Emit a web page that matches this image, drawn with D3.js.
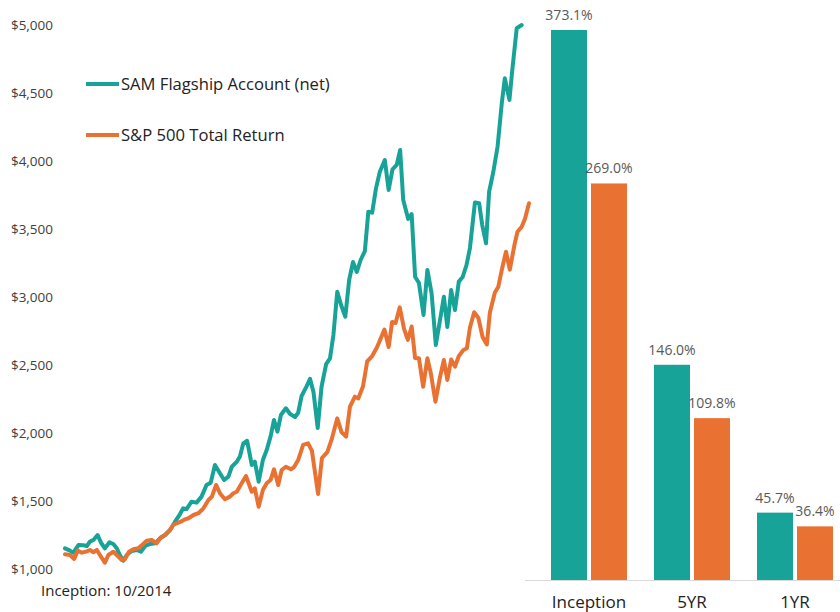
<!DOCTYPE html>
<html>
<head>
    <meta charset="utf-8">
    <title>SAM Flagship vs S&amp;P 500</title>
    <script src="https://cdn.jsdelivr.net/npm/d3@7"></script>
    <style>
        body { margin: 0; background: #fff; }
        text { font-family: "Open Sans", "DejaVu Sans", sans-serif; }
    </style>
</head>
<body>
    <div id="my_dataviz"></div>
    <script>
        const width = 840, height = 612;

        // growth of $1,000 -- months since inception (10/2014) and value
        const samMonths = [0,1.3,2.2,3.5,4.8,5.7,6.5,7.4,8.5,9.4,10.4,11.6,12.6,13.5,14.3,15.2,16.1,17.4,18.7,19.8,20.9,22.2,23.5,24.8,26.1,27.4,28.7,30.0,30.8,31.7,33.0,34.3,35.6,36.9,38.0,39.1,40.4,41.5,42.6,43.5,44.8,45.6,46.5,47.5,48.7,49.5,50.5,51.6,52.6,53.6,54.5,55.4,56.3,57.6,58.7,60.0,60.8,61.7,63.0,63.9,64.8,65.9,66.9,68.1,69.1,70.0,71.0,72.0,73.1,74.1,75.1,76.1,77.1,78.2,79.1,80.1,81.1,82.1,83.4,84.4,85.4,86.5,87.4,88.2,89.5,90.4,91.3,92.3,93.5,94.5,95.6,96.7,97.8,98.8,99.7,100.7,101.7,102.7,103.7,104.7,105.6,106.9,108.0,108.8,109.8,110.6,111.7,112.8,113.9,114.7,115.9,116.6,117.8,119.1];
        const samValues = [1152,1135,1120,1176,1174,1169,1201,1213,1250,1193,1152,1196,1184,1152,1103,1061,1103,1132,1140,1127,1169,1184,1189,1226,1250,1287,1348,1404,1446,1441,1495,1488,1532,1618,1635,1765,1704,1654,1679,1752,1789,1826,1924,1943,1765,1789,1642,1801,1875,1973,2096,2010,2132,2182,2140,2118,2149,2272,2343,2399,2301,2037,2340,2507,2549,2721,3039,2941,2855,3125,3257,3184,3272,3338,3627,3620,3799,3921,4007,3787,3939,3971,4081,3713,3574,3610,3149,3103,2868,3199,3027,2647,2831,3002,2779,3051,2904,3113,3147,3235,3360,3695,3689,3529,3395,3774,3921,4105,4424,4608,4449,4657,4976,5000];

        const spMonths = [0,1.3,2.4,3.3,4.4,5.7,6.5,7.4,8.3,9.4,10.4,11.3,12.6,13.7,14.8,15.6,16.7,17.8,19.1,20.4,21.3,22.6,23.9,25.0,26.1,27.4,28.2,29.1,30.2,31.3,32.2,33.5,34.8,36.1,37.4,38.3,39.4,40.4,41.7,43.0,43.9,44.8,45.8,47.2,48.7,49.5,50.5,51.6,52.6,53.6,54.5,55.6,56.5,57.6,58.9,59.7,60.8,62.1,63.4,64.4,66.0,67.0,68.4,69.5,71.0,72.1,73.3,74.3,75.6,76.5,77.7,78.8,80.1,81.4,83.3,84.4,85.3,86.2,87.3,88.4,89.4,90.4,91.3,92.3,93.4,94.5,95.4,96.6,97.8,98.8,99.7,100.7,101.7,102.7,103.9,104.8,105.6,106.7,107.8,108.9,110.0,110.8,112.1,113.0,113.9,115.0,116.0,117.2,118.0,119.1,120.0,121.0];
        const spValues = [1108,1103,1074,1135,1120,1130,1140,1123,1140,1090,1046,1103,1127,1096,1066,1071,1127,1145,1152,1184,1208,1213,1189,1233,1250,1287,1324,1336,1348,1365,1373,1397,1410,1446,1507,1532,1618,1557,1513,1532,1557,1568,1618,1684,1568,1593,1458,1581,1630,1654,1733,1618,1728,1752,1733,1748,1801,1912,1924,1868,1551,1816,1860,1949,2108,2007,1973,2193,2267,2255,2342,2526,2566,2632,2761,2632,2816,2809,2924,2768,2684,2783,2551,2549,2340,2549,2439,2230,2412,2537,2390,2540,2488,2566,2610,2623,2776,2888,2846,2706,2651,2886,3033,3076,3199,3333,3201,3382,3480,3517,3579,3689];

        const yTicks = [1000,1500,2000,2500,3000,3500,4000,4500,5000];

        // cumulative returns (%)
        const periods = ["Inception", "5YR", "1YR"];
        const samReturns = [373.1, 146.0, 45.7];
        const spReturns = [269.0, 109.8, 36.4];

        const seriesNames = ["SAM Flagship Account (net)", "S&P 500 Total Return"];
        const colors = ["#17a398", "#e97132"];

        const svg = d3.select("#my_dataviz")
          .append("svg")
            .attr("width", width)
            .attr("height", height);

        // ---- line chart ----
        const x = d3.scaleLinear().domain([0, 121]).range([65, 529]);
        const y = d3.scaleLinear().domain([1000, 5000]).range([569, 25]);

        const yAxis = svg.append("g")
            .attr("transform", "translate(53,0)")
            .call(d3.axisLeft(y).tickValues(yTicks).tickSize(0).tickPadding(0)
                .tickFormat(d => "$" + d3.format(",")(d)));
        yAxis.select(".domain").remove();
        yAxis.selectAll("text")
            .attr("fill", "#404040")
            .style("font-size", "13.5px")
            .style("font-family", "'Open Sans', sans-serif");

        const line = d3.line()
            .x(d => x(d[0]))
            .y(d => y(d[1]));

        const series = [
            d3.zip(samMonths, samValues),
            d3.zip(spMonths, spValues)
        ];

        series.forEach(function(data, i) {
            svg.append("path")
              .datum(data)
              .attr("fill", "none")
              .attr("stroke", colors[i])
              .attr("stroke-width", 4)
              .attr("stroke-linejoin", "round")
              .attr("stroke-linecap", "round")
              .attr("d", line);
        });

        // legend
        seriesNames.forEach(function(name, i) {
            const ly = 84 + i * 51;
            svg.append("line")
                .attr("x1", 86).attr("x2", 119)
                .attr("y1", ly).attr("y2", ly)
                .attr("stroke", colors[i])
                .attr("stroke-width", 4);
            svg.append("text")
                .attr("x", 121).attr("y", ly)
                .attr("dy", "0.35em")
                .attr("fill", "#222")
                .style("font-size", "16.6px")
                .text(name);
        });

        svg.append("text")
            .attr("x", 41).attr("y", 591)
            .attr("dy", "0.35em")
            .attr("fill", "#222")
            .style("font-size", "15px")
            .text("Inception: 10/2014");

        // ---- bar chart ----
        const x0 = d3.scaleBand().domain(periods).range([537.5, 846.5])
            .paddingInner(0.262).paddingOuter(0.131);
        const x1 = d3.scaleBand().domain([0, 1]).range([0, x0.bandwidth()])
            .paddingInner(0.1);
        const yb = d3.scaleLinear().domain([0, 373.1]).range([580, 30]);

        const barData = periods.map((p, i) => ({ period: p, values: [samReturns[i], spReturns[i]] }));

        const groups = svg.selectAll(".grp")
            .data(barData)
            .join("g")
            .attr("class", "grp")
            .attr("transform", d => `translate(${x0(d.period)},0)`);

        groups.selectAll("rect")
            .data(d => d.values.map((v, k) => ({ k: k, v: v })))
            .join("rect")
            .attr("x", d => x1(d.k))
            .attr("width", x1.bandwidth())
            .attr("y", d => yb(d.v))
            .attr("height", d => yb(0) - yb(d.v))
            .attr("fill", d => colors[d.k]);

        groups.selectAll(".lbl")
            .data(d => d.values.map((v, k) => ({ k: k, v: v })))
            .join("text")
            .attr("class", "lbl")
            .attr("x", d => x1(d.k) + x1.bandwidth() / 2)
            .attr("y", d => yb(d.v) - 15)
            .attr("dy", "0.35em")
            .attr("text-anchor", "middle")
            .attr("fill", "#595959")
            .style("font-size", "14px")
            .text(d => d3.format(".1f")(d.v) + "%");

        const xAxis = svg.append("g")
            .attr("transform", `translate(0,${yb(0)})`)
            .call(d3.axisBottom(x0).tickSize(0).tickPadding(0));
        xAxis.select(".domain")
            .attr("d", "M525,0.5H840")
            .attr("stroke", "#d9d9d9");
        xAxis.selectAll("text")
            .attr("y", 22)
            .attr("dy", "0.35em")
            .attr("fill", "#222")
            .style("font-size", "17px")
            .style("font-family", "'Open Sans', sans-serif");
    </script>
</body>
</html>
